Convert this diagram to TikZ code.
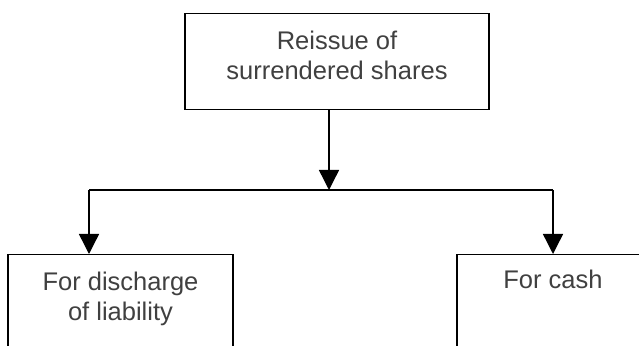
\documentclass[tikz,border=0pt]{standalone}
\usepackage{fontspec}
\setmainfont{Liberation Sans}
\usetikzlibrary{arrows.meta}
\definecolor{boxtext}{HTML}{404040}
\tikzset{%
  sharebox/.style = {shape=rectangle, draw, line width=1.4pt,%
                     align=center, anchor=north, inner sep=0pt,%
                     text=boxtext, font=\fontsize{25.5}{30}\selectfont},%
  flow/.style     = {line width=1.4pt},%
  flowarrow/.style = {flow, -{Triangle[width=20pt,length=20pt]}}%
}
\begin{document}
\begin{tikzpicture}[x=1pt,y=1pt]%
	\useasboundingbox (0,0) rectangle (639,345);
	\clip (0,0) rectangle (639,345);
	% boxes
	\node (reissue) [sharebox, minimum width=304pt, text height=66pt, text depth=30pt]
		at (337,332) {Reissue of\\surrendered shares};
	\node (discharge) [sharebox, minimum width=225pt, text height=66pt, text depth=60pt]
		at (120.5,91) {For discharge\\of liability};
	\node (cash) [sharebox, minimum width=192pt, text height=34pt, text depth=92pt]
		at (553,91) {For cash};
	% branching
	\coordinate (split) at (329,155);
	\coordinate (leftdrop) at (89,155);
	\coordinate (rightdrop) at (553,155);
	\draw [flowarrow] (reissue.south -| split) -- (split);
	\draw [flow] (leftdrop) -- (rightdrop);
	\draw [flowarrow] (leftdrop) -- (leftdrop |- discharge.north);
	\draw [flowarrow] (rightdrop) -- (cash.north);
\end{tikzpicture}
\end{document}
